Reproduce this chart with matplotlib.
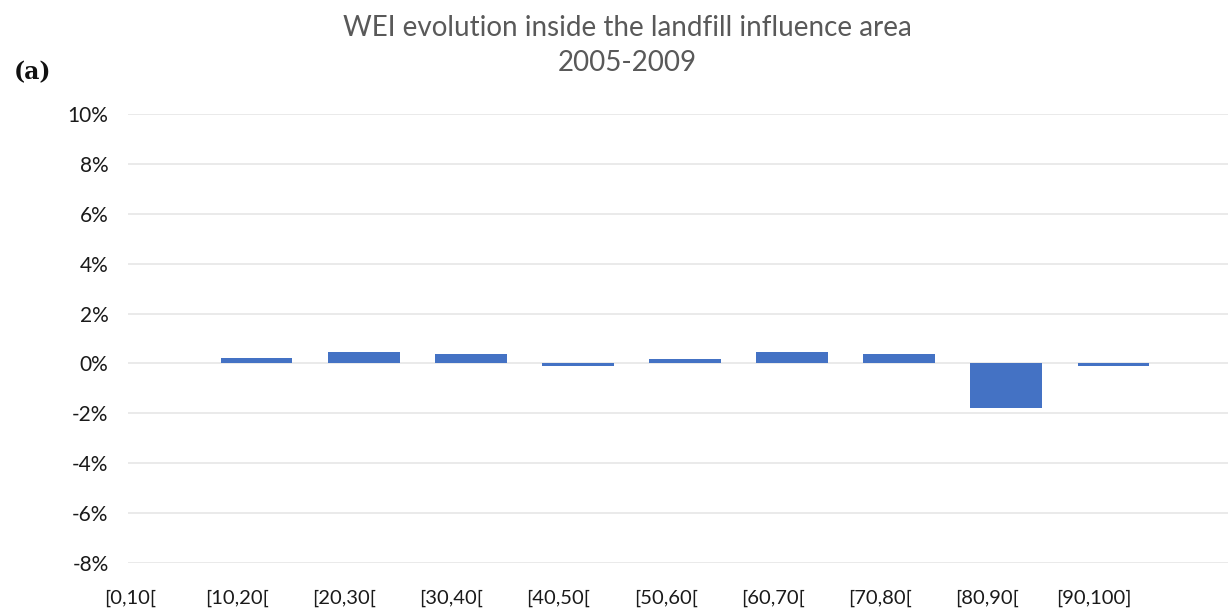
import matplotlib.pyplot as plt
import numpy as np

# WEI change per class, in percent
categories = ["[0,10[", "[10,20[", "[20,30[", "[30,40[", "[40,50[",
              "[50,60[", "[60,70[", "[70,80[", "[80,90[", "[90,100]"]
wei_change = [0.0, 0.2, 0.46, 0.38, -0.12, 0.17, 0.45, 0.36, -1.8, -0.1]
yticks = [-8, -6, -4, -2, 0, 2, 4, 6, 8, 10]

plt.rcParams['font.family'] = ['Lato', 'DejaVu Sans']

fig = plt.figure(figsize=(12.28, 6.15), dpi=100)
ax = fig.add_axes([128 / 1228, 1 - 563 / 615, 1100 / 1228, 449 / 615])

x = np.arange(len(categories))
ax.bar(x, wei_change, width=0.67, color="#4472C4", zorder=3)

ax.set_ylim(-8, 10)
ax.set_xlim(-0.2, 10.07)
ax.set_yticks(yticks)
ax.set_yticklabels([f"{v}%" for v in yticks])
ax.set_xticks(x - 0.18)
ax.set_xticklabels(categories)
ax.tick_params(axis="both", length=0, colors="#1a1a1a")
ax.tick_params(axis="x", pad=19, labelsize=14.5)
ax.tick_params(axis="y", pad=14, labelsize=15)
ax.grid(axis="y", color="#E8E8E8", linewidth=1.3, zorder=0)
for s in ax.spines.values():
    s.set_visible(False)

fig.text(627 / 1228, 1 - 28 / 615, "WEI evolution inside the landfill influence area",
         ha="center", va="center", fontsize=20, color="#595959")
fig.text(627 / 1228, 1 - 63 / 615, "2005-2009",
         ha="center", va="center", fontsize=20, color="#595959")
fig.text(14 / 1228, 1 - 72 / 615, "(a)", ha="left", va="center",
         fontsize=17, fontweight="bold", family="DejaVu Serif", color="#111111")

plt.savefig("out.png", dpi=100)
plt.close()
